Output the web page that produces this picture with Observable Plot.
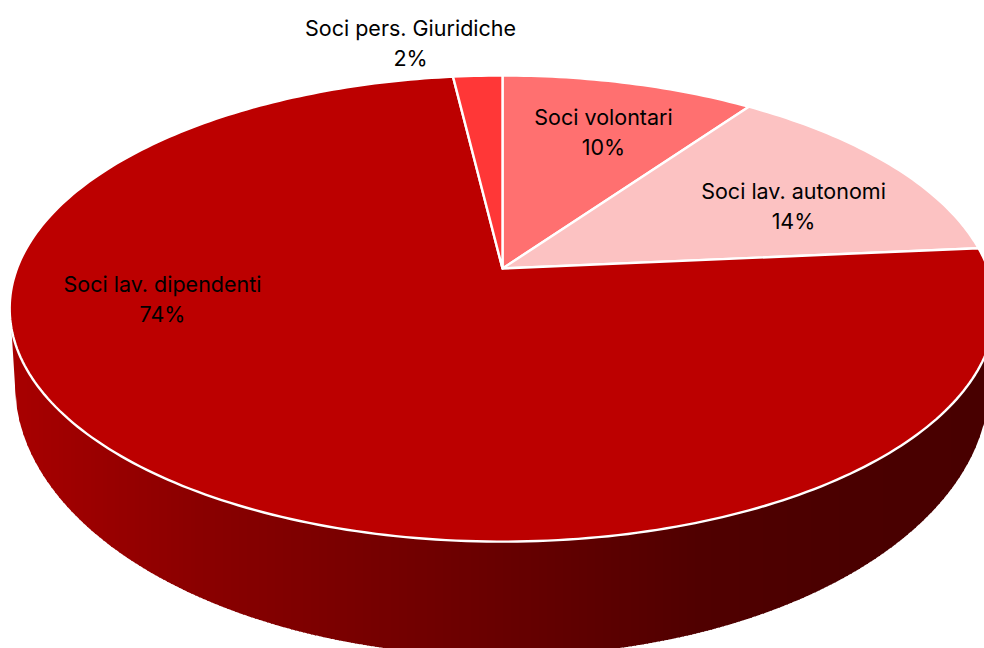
<!DOCTYPE html>
<html>
<head>
<meta charset="utf-8">
<script src="https://cdn.jsdelivr.net/npm/d3@7"></script>
<script src="https://cdn.jsdelivr.net/npm/@observablehq/plot@0.6"></script>
<style>
html,body{margin:0;padding:0;background:#fff;overflow:hidden}
svg{display:block}
</style>
</head>
<body>
<div id="chart"></div>
<script>
// Data (clockwise from 12 o'clock)
const categories = ["Soci volontari", "Soci lav. autonomi", "Soci lav. dipendenti", "Soci pers. Giuridiche"];
const shares = [9.8, 13.7, 74.4, 1.9];
const sliceColors = ["#FF7070", "#FCC2C2", "#BC0000", "#FF3737"];

// Layout, kept apart from the data
const labelX = [603, 793, 162, 410];
const labelY = [130, 204, 297, 41];
const wallStops = [[10, "#a80000"], [200, "#8a0000"], [500, "#680000"], [700, "#500000"], [850, "#4a0000"], [984, "#480000"]];
const W = 984, H = 648;
const apex = {x: 502, y: 268};
const k = 0.1718, A = 485.5, B = 226.2;                  // perspective of the top disc
const topE = {cx: 502, cy: 308, rx: 492, ry: 233};       // silhouette of the top disc
const lowE = {cx: 502, cy: 384, rx: 487, ry: 272};       // silhouette of the bottom disc

const project = (theta) => {
  const X = Math.sin(theta), Y = Math.cos(theta), w = 1 + k * Y;
  return {x: apex.x + A * X / w, y: apex.y - B * Y / w};
};

// Slices
const total = d3.sum(shares);
let acc = 0;
const slicePoints = [];
categories.forEach((name, i) => {
  const a0 = acc / total * 2 * Math.PI;
  acc += shares[i];
  const a1 = acc / total * 2 * Math.PI;
  const color = sliceColors[i];
  const n = Math.max(4, Math.ceil((a1 - a0) / (Math.PI / 180)));
  slicePoints.push({name, color, ...apex});
  for (let j = 0; j <= n; ++j) slicePoints.push({name, color, ...project(a0 + (a1 - a0) * j / n)});
  slicePoints.push({name, color, ...apex});
});

// Side wall as vertical strips
const wallColor = d3.scaleLinear(wallStops.map(d => d[0]), wallStops.map(d => d[1]));
const half = (e, x) => {
  const u = Math.min(1, Math.abs(x - e.cx) / e.rx);
  return e.cy + e.ry * Math.sqrt(1 - u * u);
};
const leftEnd = lowE.cx - lowE.rx;
const wallTop = (x) => half(topE, x);
const wallBottom = (x) => {
  if (x >= leftEnd) return half(lowE, x);
  return wallTop(11) + (lowE.cy - wallTop(11)) * (x - 11) / (leftEnd - 11);
};
const wallPoints = [];
const step = 4;
for (let x = 11, s = 0; x < W; x += step, ++s) {
  const color = wallColor(x + step / 2);
  for (const px of [x, x + step / 2, x + step + 1]) {
    wallPoints.push({s, color, x: px, y1: wallTop(px), y2: wallBottom(px)});
  }
}

const labels = categories.map((name, i) => ({
  text: `${name}\n${Math.round(shares[i])}%`,
  x: labelX[i],
  y: labelY[i]
}));

const chart = Plot.plot({
  width: W,
  height: H,
  margin: 0,
  x: {type: "linear", domain: [0, W], range: [0, W], axis: null},
  y: {type: "linear", domain: [0, H], range: [0, H], axis: null},
  color: {type: "identity"},
  style: {background: "#fff"},
  marks: [
    Plot.areaY(wallPoints, {x: "x", y1: "y1", y2: "y2", z: "s", fill: "color", curve: "linear"}),
    Plot.line(slicePoints, {x: "x", y: "y", z: "name", fill: "color", stroke: "#fff", strokeWidth: 2.4, strokeLinejoin: "round", curve: "linear"}),
    Plot.text(labels, {x: "x", y: "y", text: "text", fill: "#000", fontFamily: "Inter", fontSize: 21.5, lineHeight: 1.4, textAnchor: "middle", letterSpacing: -0.3})
  ]
});
document.getElementById("chart").appendChild(chart);
</script>
</body>
</html>
